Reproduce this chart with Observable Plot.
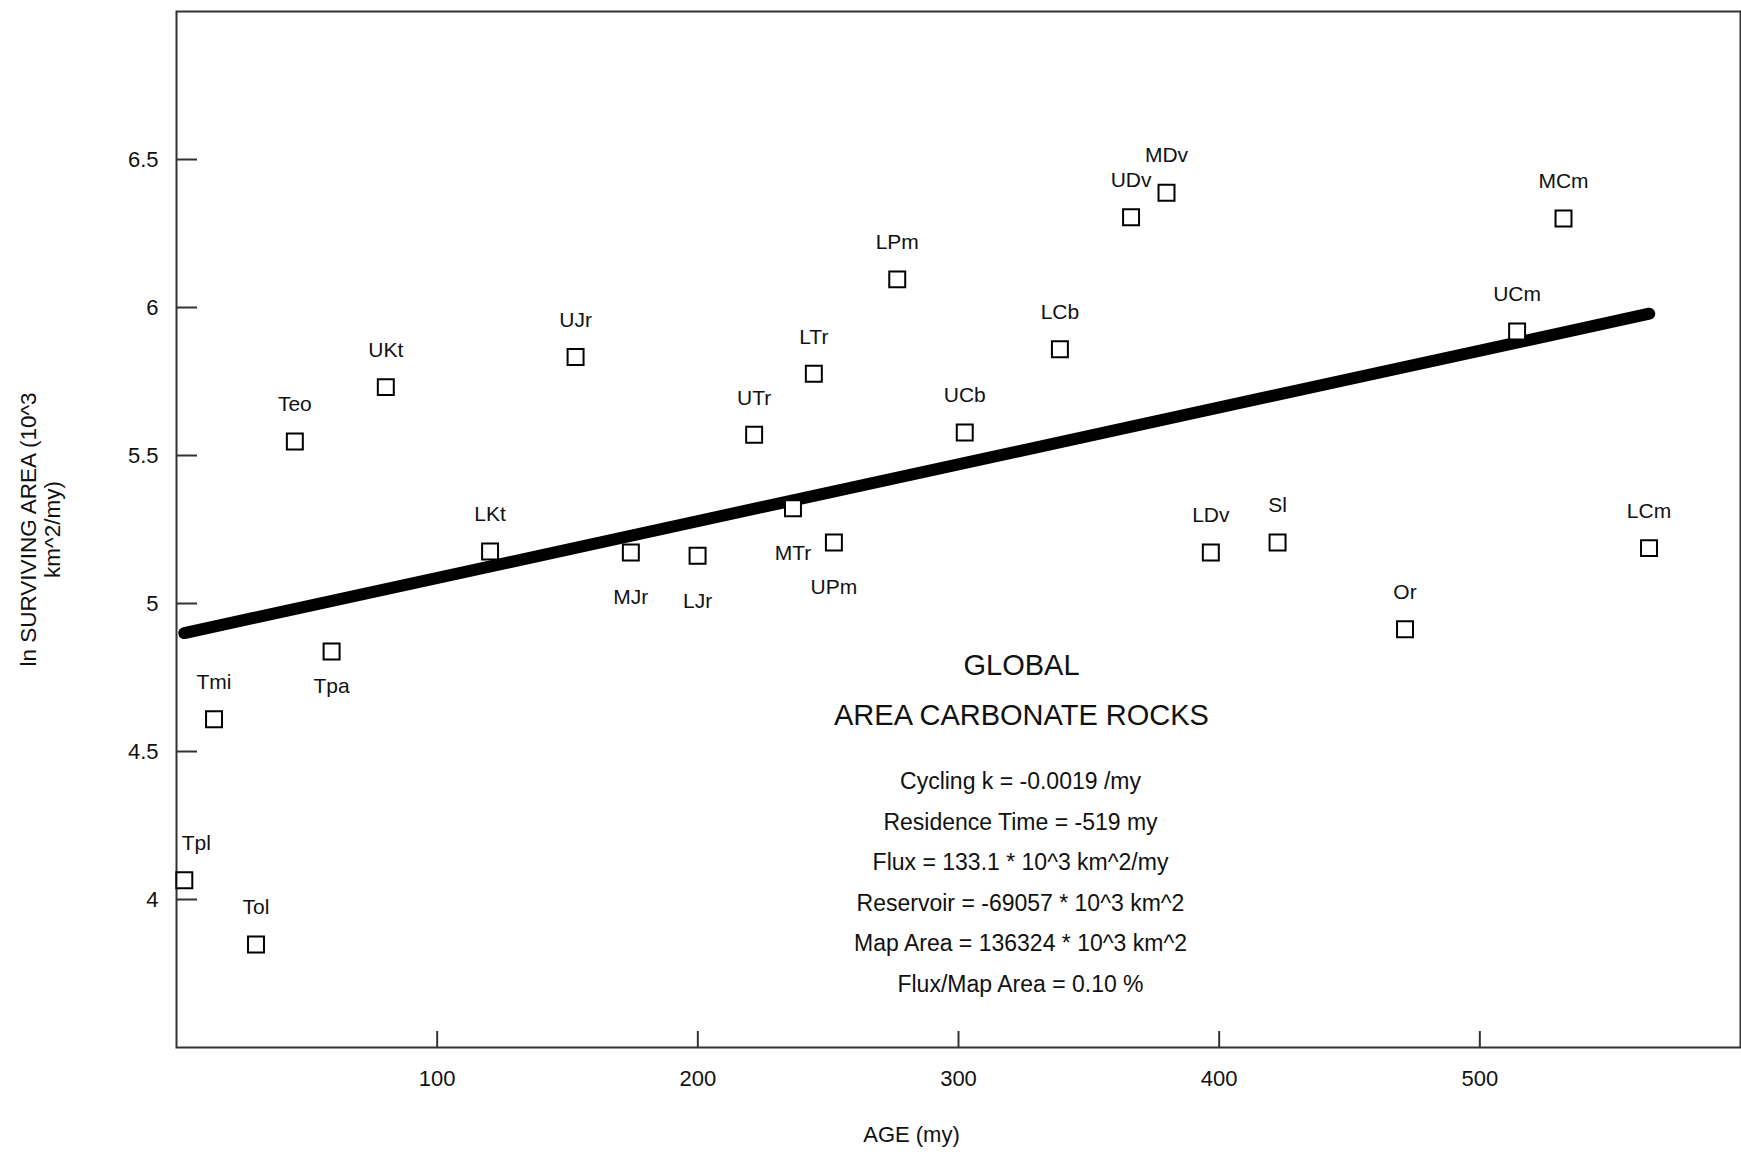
<!DOCTYPE html>
<html>
<head>
<meta charset="utf-8">
<script src="https://cdn.jsdelivr.net/npm/d3@7"></script>
<script src="https://cdn.jsdelivr.net/npm/@observablehq/plot@0.6"></script>
<style>
  html, body { margin: 0; padding: 0; background: #ffffff; }
  #chart svg { display: block; }
</style>
</head>
<body>
<div id="chart"></div>
<script>
// ---- data ----
const units = ["Tpl","Tol","Tmi","Tpa","Teo","UKt","LKt","UJr","MJr","LJr","UTr","MTr","LTr","UPm","LPm","UCb","LCb","UDv","MDv","LDv","Sl","Or","UCm","MCm","LCm"];
const ages  = [3, 30.5, 14.4, 59.5, 45.4, 80.3, 120.3, 153.1, 174.3, 199.9, 221.6, 236.5, 244.5, 252.2, 276.5, 302.4, 338.9, 366.2, 379.8, 396.8, 422.4, 471.3, 514.3, 532.1, 564.9];
const lnArea = [4.065, 3.848, 4.609, 4.838, 5.547, 5.731, 5.176, 5.833, 5.172, 5.161, 5.570, 5.322, 5.776, 5.206, 6.095, 5.578, 5.859, 6.305, 6.388, 5.172, 5.206, 4.913, 5.919, 6.301, 5.187];

const fitAge = [3, 565];
const fitLnArea = [4.900, 5.979];

const xTicks = [100, 200, 300, 400, 500];
const yTicks = [4, 4.5, 5, 5.5, 6, 6.5];

const xLabel = "AGE (my)";
const yLabelLines = ["ln SURVIVING AREA (10^3", "km^2/my)"];
const titleLines = ["GLOBAL", "AREA CARBONATE ROCKS"];
const statLines = [
  "Cycling k = -0.0019 /my",
  "Residence Time = -519 my",
  "Flux = 133.1 * 10^3 km^2/my",
  "Reservoir = -69057 * 10^3 km^2",
  "Map Area = 136324 * 10^3 km^2",
  "Flux/Map Area = 0.10 %"
];

// ---- tables built from the arrays ----
const points = units.map((u, i) => ({unit: u, age: ages[i], ln: lnArea[i]}));
const fit = fitAge.map((a, i) => ({age: a, ln: fitLnArea[i]}));

// ---- layout ----
const W = 1741, H = 1154;
const mL = 176, mR = 1, mT = 11, mB = 107;
const plotW = W - mL - mR, plotH = H - mT - mB;
const FONT = "'Liberation Sans', Arial, Helvetica, sans-serif";
const INK = "#111";

// label placement groups
const belowFar = new Set(["MJr","LJr","MTr","UPm"]);
const belowNear = new Set(["Tpa"]);
const shiftRight = new Set(["Tpl"]);
const above = points.filter(d => !belowFar.has(d.unit) && !belowNear.has(d.unit) && !shiftRight.has(d.unit));

const chart = Plot.plot({
  width: W,
  height: H,
  marginLeft: mL,
  marginRight: mR,
  marginTop: mT,
  marginBottom: mB,
  style: {fontFamily: FONT, background: "#ffffff", color: INK},
  x: {domain: [0, 600]},
  y: {domain: [3.5, 7]},
  marks: [
    Plot.frame({stroke: "#333", strokeWidth: 2}),
    Plot.axisX({ticks: xTicks, tickSize: 0, tickPadding: 23, fontSize: 22, label: null, tickFormat: d => String(d)}),
    Plot.axisY({ticks: yTicks, tickSize: 0, tickPadding: 18, fontSize: 22, label: null, tickFormat: d => String(d)}),
    // inward tick marks
    Plot.tickY(yTicks, {y: d => d, insetRight: plotW - 21, stroke: "#333", strokeWidth: 2}),
    Plot.tickX(xTicks, {x: d => d, insetTop: plotH - 16, stroke: "#333", strokeWidth: 2}),
    // regression line
    Plot.line(fit, {x: "age", y: "ln", stroke: "#000", strokeWidth: 12, strokeLinecap: "round"}),
    // points
    Plot.dot(points, {x: "age", y: "ln", symbol: "square", r: 9, fill: "#fff", stroke: "#000", strokeWidth: 2}),
    // point labels
    Plot.text(above, {x: "age", y: "ln", text: "unit", dy: -37, fontSize: 21, fill: INK}),
    Plot.text(points.filter(d => shiftRight.has(d.unit)), {x: "age", y: "ln", text: "unit", dy: -37, dx: 12, fontSize: 21, fill: INK}),
    Plot.text(points.filter(d => belowFar.has(d.unit)), {x: "age", y: "ln", text: "unit", dy: 45, fontSize: 21, fill: INK}),
    Plot.text(points.filter(d => belowNear.has(d.unit)), {x: "age", y: "ln", text: "unit", dy: 35, fontSize: 21, fill: INK}),
    // annotation block
    Plot.text([titleLines.join("\n")], {frameAnchor: "top-left", dx: 1021 - mL, dy: 683 - mT, textAnchor: "middle", lineAnchor: "middle", lineHeight: 50 / 29, fontSize: 29, fill: INK}),
    Plot.text([statLines.join("\n")], {frameAnchor: "top-left", dx: 1020 - mL, dy: 877 - mT, textAnchor: "middle", lineAnchor: "middle", lineHeight: 40.6 / 23, fontSize: 23, fill: INK}),
    // axis titles
    Plot.text([xLabel], {frameAnchor: "bottom", dx: 911 - (mL + plotW / 2), dy: 87, textAnchor: "middle", lineAnchor: "middle", fontSize: 22, fill: INK}),
    Plot.text([yLabelLines.join("\n")], {frameAnchor: "left", dx: 40 - mL, rotate: -90, textAnchor: "middle", lineAnchor: "middle", lineHeight: 24 / 22.5, fontSize: 22.5, fill: INK})
  ]
});

document.getElementById("chart").appendChild(chart);
</script>
</body>
</html>
